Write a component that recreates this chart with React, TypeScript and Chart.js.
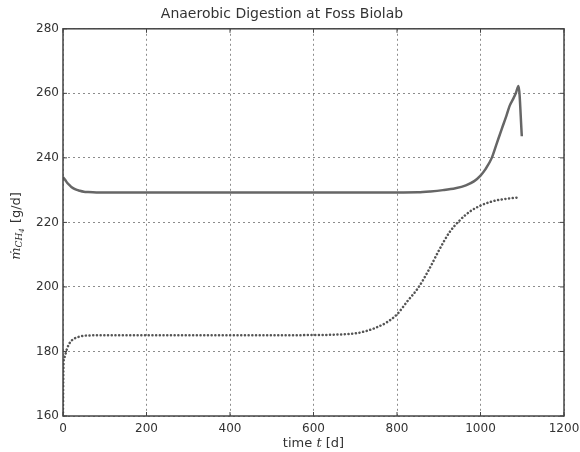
import React, { useEffect, useRef } from "react";
import { Chart, registerables } from "chart.js";

Chart.register(...registerables);

const titleText = "Anaerobic Digestion at Foss Biolab";
const xTicks = [0, 200, 400, 600, 800, 1000, 1200];
const yTicks = [160, 180, 200, 220, 240, 260, 280];

const solidTimes = [0, 5, 10, 15, 20, 30, 40, 50, 60, 80, 100, 200, 300, 400, 500, 600, 700, 800, 850, 880, 910, 940, 965, 985, 1000, 1012, 1027, 1039, 1051, 1062, 1070, 1078, 1085, 1091, 1099];
const solidValues = [234.0, 233.2, 232.3, 231.6, 231.0, 230.2, 229.8, 229.5, 229.4, 229.3, 229.3, 229.3, 229.3, 229.3, 229.3, 229.3, 229.3, 229.3, 229.35, 229.6, 230.0, 230.6, 231.5, 232.8, 234.5, 236.5, 240.0, 244.5, 249.0, 253.0, 256.2, 258.2, 260.2, 262.3, 246.7];

const dottedTimes = [0, 0.5, 1, 2, 4, 6, 10, 15, 20, 30, 40, 50, 60, 80, 100, 200, 300, 400, 500, 600, 650, 700, 725, 750, 775, 800, 825, 850, 875, 900, 925, 950, 975, 1000, 1025, 1050, 1075, 1090];
const dottedValues = [160, 170, 175, 177.5, 178.3, 179.2, 181.0, 182.4, 183.3, 184.2, 184.6, 184.85, 184.95, 185.0, 185.0, 185.0, 185.0, 185.0, 185.0, 185.1, 185.2, 185.6, 186.3, 187.4, 189.0, 191.5, 195.6, 199.6, 205.0, 211.2, 216.8, 220.6, 223.4, 225.2, 226.4, 227.1, 227.5, 227.7];

const FONT = "'DejaVu Sans', sans-serif";

const framePlugin = {
  id: "frame",
  afterDraw(chart: any) {
    const { ctx, chartArea: a, scales } = chart;
    ctx.save();
    ctx.strokeStyle = "#444";
    ctx.lineWidth = 1.5;
    ctx.strokeRect(a.left, a.top, a.right - a.left, a.bottom - a.top);
    ctx.lineWidth = 1;
    ctx.beginPath();
    for (const v of xTicks) {
      const px = scales.x.getPixelForValue(v);
      ctx.moveTo(px, a.bottom);
      ctx.lineTo(px, a.bottom - 4);
      ctx.moveTo(px, a.top);
      ctx.lineTo(px, a.top + 4);
    }
    for (const v of yTicks) {
      const py = scales.y.getPixelForValue(v);
      ctx.moveTo(a.left, py);
      ctx.lineTo(a.left + 4, py);
      ctx.moveTo(a.right, py);
      ctx.lineTo(a.right - 4, py);
    }
    ctx.stroke();

    // x axis label: time t [d]
    ctx.fillStyle = "#333";
    ctx.textBaseline = "middle";
    const cx = (a.left + a.right) / 2;
    const xy = 444;
    const p1 = "time ";
    const p2 = "t";
    const p3 = " [d]";
    ctx.font = `13px ${FONT}`;
    const w1 = ctx.measureText(p1).width;
    const w3 = ctx.measureText(p3).width;
    ctx.font = `italic 13px 'DejaVu Serif', serif`;
    const w2 = ctx.measureText(p2).width;
    let sx = cx - (w1 + w2 + w3) / 2;
    ctx.textAlign = "left";
    ctx.font = `13px ${FONT}`;
    ctx.fillText(p1, sx, xy);
    sx += w1;
    ctx.font = `italic 13px 'DejaVu Serif', serif`;
    ctx.fillText(p2, sx, xy);
    sx += w2;
    ctx.font = `13px ${FONT}`;
    ctx.fillText(p3, sx, xy);

    // y axis label: ṁ_CH4 [g/d]
    const cy = (a.top + a.bottom) / 2 + 4;
    ctx.translate(17, cy);
    ctx.rotate(-Math.PI / 2);
    const q1 = "ṁ";
    const q2 = "CH";
    const q3 = "4";
    const q4 = " [g/d]";
    ctx.font = `italic 13px 'DejaVu Serif', serif`;
    const v1 = ctx.measureText(q1).width;
    ctx.font = `italic 9px 'DejaVu Serif', serif`;
    const v2 = ctx.measureText(q2).width;
    ctx.font = `italic 7px 'DejaVu Serif', serif`;
    const v3 = ctx.measureText(q3).width;
    ctx.font = `13px ${FONT}`;
    const v4 = ctx.measureText(q4).width;
    let ty = -(v1 + v2 + v3 + v4) / 2;
    ctx.font = `italic 13px 'DejaVu Serif', serif`;
    ctx.fillText(q1, ty, 0);
    ty += v1;
    ctx.font = `italic 9px 'DejaVu Serif', serif`;
    ctx.fillText(q2, ty, 3);
    ty += v2;
    ctx.font = `italic 7px 'DejaVu Serif', serif`;
    ctx.fillText(q3, ty, 5);
    ty += v3 + 1;
    ctx.font = `13px ${FONT}`;
    ctx.fillText(q4, ty, 0);
    ctx.restore();
  },
};

export default function App() {
  const ref = useRef<HTMLCanvasElement | null>(null);
  useEffect(() => {
    if (!ref.current) return;
    const solid = solidTimes.map((t, i) => ({ x: t, y: solidValues[i] }));
    const dotted = dottedTimes.map((t, i) => ({ x: t, y: dottedValues[i] }));
    const chart = new Chart(ref.current, {
      type: "line",
      data: {
        datasets: [
          {
            data: solid,
            borderColor: "#666",
            borderWidth: 2.5,
            pointRadius: 0,
            fill: false,
            cubicInterpolationMode: "monotone",
          },
          {
            data: dotted,
            borderColor: "#555",
            borderWidth: 2.5,
            borderDash: [0.1, 3.6],
            borderCapStyle: "round",
            pointRadius: 0,
            fill: false,
            cubicInterpolationMode: "monotone",
          },
        ],
      },
      options: {
        animation: false,
        responsive: false,
        devicePixelRatio: 1,
        layout: { padding: { left: 0, right: 16, top: 0, bottom: 0 } },
        plugins: {
          legend: { display: false },
          tooltip: { enabled: false },
          title: {
            display: true,
            text: titleText,
            color: "#333",
            font: { family: FONT, size: 14, weight: "normal" },
            padding: { top: 6, bottom: 6 },
          },
        },
        scales: {
          x: {
            type: "linear",
            min: 0,
            max: 1200,
            afterBuildTicks: (s: any) => {
              s.ticks = xTicks.map((v) => ({ value: v }));
            },
            afterFit: (s: any) => {
              s.height = 36;
              s.paddingRight = 0;
              s.paddingLeft = 0;
            },
            ticks: {
              color: "#333",
              font: { family: FONT, size: 12 },
              padding: 6,
              maxRotation: 0,
              callback: (v: any) => String(v),
            },
            grid: { color: "rgba(0,0,0,0.45)", lineWidth: 1, drawTicks: false },
            border: { display: false, dash: [2, 3] },
          },
          y: {
            type: "linear",
            min: 160,
            max: 280,
            afterBuildTicks: (s: any) => {
              s.ticks = yTicks.map((v) => ({ value: v }));
            },
            afterFit: (s: any) => {
              s.width = 63;
            },
            ticks: {
              color: "#333",
              font: { family: FONT, size: 12 },
              padding: 4,
              callback: (v: any) => String(v),
            },
            grid: { color: "rgba(0,0,0,0.45)", lineWidth: 1, drawTicks: false },
            border: { display: false, dash: [2, 3] },
          },
        },
      },
      plugins: [framePlugin],
    });
    return () => chart.destroy();
  }, []);
  return (
    <div style={{ position: "absolute", left: 0, top: 0, width: 580, height: 452, background: "#fff" }}>
      <canvas ref={ref} width={580} height={452} />
    </div>
  );
}
